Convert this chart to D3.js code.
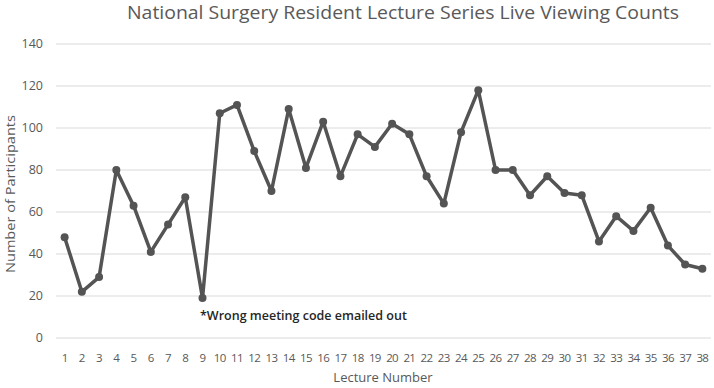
<!DOCTYPE html>
<html>
<head>
<meta charset="utf-8">
<script src="https://cdn.jsdelivr.net/npm/d3@7"></script>
<style>
  body { margin: 0; background: #fff; }
  svg { display: block; font-family: "Open Sans", sans-serif; }
</style>
</head>
<body>
<div id="chart"></div>
<script>
const lectures = d3.range(1, 39);
const participants = [48, 22, 29, 80, 63, 41, 54, 67, 19, 107, 111, 89, 70, 109, 81, 103, 77, 97, 91,
  102, 97, 77, 64, 98, 118, 80, 80, 68, 77, 69, 68, 46, 58, 51, 62, 44, 35, 33];
const yTicks = [0, 20, 40, 60, 80, 100, 120, 140];
const note = "*Wrong meeting code emailed out";

const w = 714, h = 388;
const m = {l: 56, r: 3, t: 44, b: 50};

const svg = d3.select("#chart").append("svg")
  .attr("width", w)
  .attr("height", h);

const x = d3.scalePoint().domain(lectures).range([m.l, w - m.r]).padding(0.5);
const y = d3.scaleLinear().domain([0, 140]).range([h - m.b, m.t]);

// gridlines
svg.append("g")
  .selectAll("line")
  .data(yTicks)
  .join("line")
    .attr("x1", m.l)
    .attr("x2", w - m.r)
    .attr("y1", d => y(d))
    .attr("y2", d => y(d))
    .attr("stroke", "#d9d9d9")
    .attr("stroke-width", 1);

// y labels
svg.append("g")
  .selectAll("text")
  .data(yTicks)
  .join("text")
    .attr("x", 43)
    .attr("y", d => y(d))
    .attr("dy", "0.35em")
    .attr("text-anchor", "end")
    .attr("fill", "#595959")
    .style("font-size", "12.5px")
    .text(d => d);

// x labels
svg.append("g")
  .selectAll("text")
  .data(lectures)
  .join("text")
    .attr("x", d => x(d))
    .attr("y", 362)
    .attr("text-anchor", "middle")
    .attr("fill", "#595959")
    .style("font-size", "11.5px")
    .style("letter-spacing", "-0.6px")
    .text(d => d);

// series
const pts = lectures.map((d, i) => [x(d), y(participants[i])]);
svg.append("path")
  .attr("d", d3.line()(pts))
  .attr("fill", "none")
  .attr("stroke", "#545454")
  .attr("stroke-width", 3.5)
  .attr("stroke-linejoin", "round");

svg.append("g")
  .selectAll("circle")
  .data(pts)
  .join("circle")
    .attr("cx", d => d[0])
    .attr("cy", d => d[1])
    .attr("r", 4)
    .attr("fill", "#545454");

// annotation
svg.append("text")
  .attr("x", 200)
  .attr("y", 320)
  .attr("fill", "#262626")
  .style("font-size", "12.5px")
  .style("font-weight", "600")
  .text(note);

// titles
svg.append("text")
  .attr("x", 403)
  .attr("y", 19)
  .attr("text-anchor", "middle")
  .attr("fill", "#595959")
  .style("font-size", "19px")
  .attr("textLength", 552)
  .attr("lengthAdjust", "spacingAndGlyphs")
  .text("National Surgery Resident Lecture Series Live Viewing Counts");

svg.append("text")
  .attr("x", 383)
  .attr("y", 382)
  .attr("text-anchor", "middle")
  .attr("fill", "#595959")
  .style("font-size", "13px")
  .text("Lecture Number");

svg.append("text")
  .attr("transform", "translate(15,194) rotate(-90)")
  .attr("text-anchor", "middle")
  .attr("fill", "#595959")
  .style("font-size", "13.5px")
  .attr("textLength", 158)
  .attr("lengthAdjust", "spacingAndGlyphs")
  .text("Number of Participants");
</script>
</body>
</html>
